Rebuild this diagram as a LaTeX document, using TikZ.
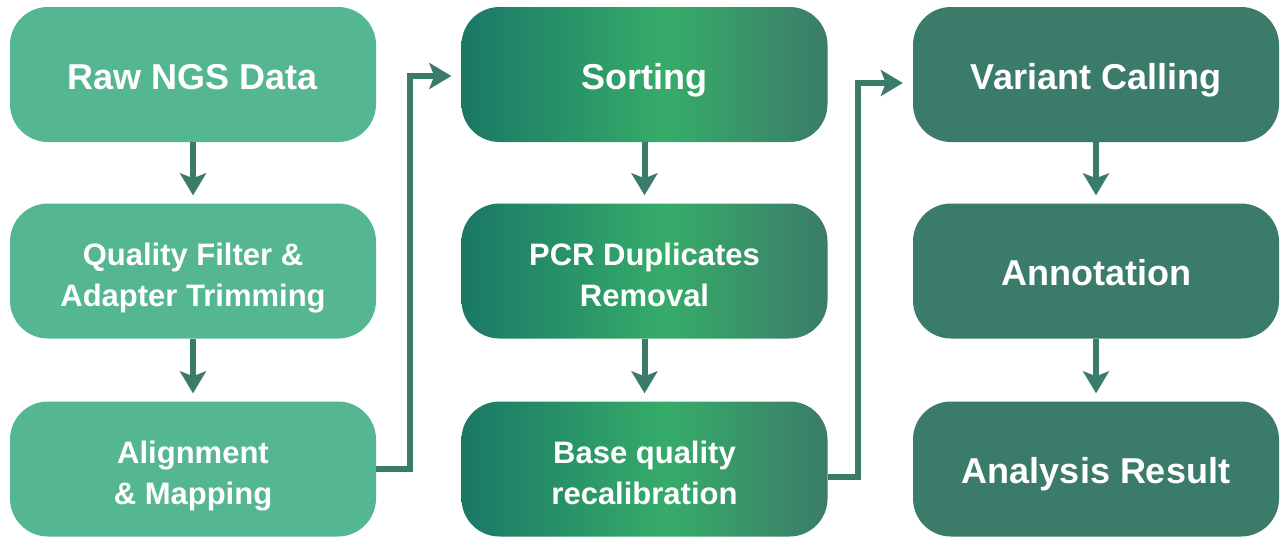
\documentclass[tikz,border=0pt]{standalone}
\usepackage{fontspec}
\setmainfont{Liberation Sans}
\usetikzlibrary{arrows.meta,calc}
\definecolor{lightg}{HTML}{55B792}
\definecolor{darkg}{HTML}{3A7B69}
\definecolor{gA}{HTML}{1A7866}
\definecolor{gC}{HTML}{36AC69}
\definecolor{gD}{HTML}{3B7C6A}
\pgfdeclarehorizontalshading{midshade}{100bp}{color(0bp)=(gA); color(25bp)=(gA); color(53bp)=(gC); color(75bp)=(gD); color(100bp)=(gD)}
\begin{document}
\begin{tikzpicture}[x=1pt,y=-1pt,
  box/.style={rounded corners=38pt, minimum width=366pt, minimum height=135pt, inner sep=0pt, text=white, align=center},
  big/.style={font=\bfseries\fontsize{36}{40}\selectfont, text height=29pt, text depth=0pt},
  small/.style={font=\bfseries\fontsize{31}{41}\selectfont, text height=70pt, text depth=0pt},
  colA/.style={box, fill=lightg},
  colB/.style={box, shade, shading=midshade, shading angle=0},
  colC/.style={box, fill=darkg},
  conn/.style={draw=darkg, line width=6pt, line join=miter, -{Stealth[length=22pt,width=26pt,inset=5pt]}}]
\useasboundingbox[fill=white] (0,0) rectangle (1281,538);
\node[colA,big]   (a1) at (193,74.5) {Raw NGS Data};
\node[colA,small] (a2) at (193,271) {Quality Filter \&\\Adapter Trimming};
\node[colA,small] (a3) at (193,469) {Alignment\\\& Mapping};
\node[colB,big]   (b1) at (644.5,74.5) {Sorting};
\node[colB,small] (b2) at (644.5,271) {PCR Duplicates\\Removal};
\node[colB,small] (b3) at (644.5,469) {Base quality\\recalibration};
\node[colC,big]   (c1) at (1096,74.5) {Variant Calling};
\node[colC,big]   (c2) at (1096,271) {Annotation};
\node[colC,big]   (c3) at (1096,469) {Analysis Result};
\foreach \u/\v in {a1/a2,a2/a3,b1/b2,b2/b3,c1/c2,c2/c3}
  \draw[conn, shorten >=8pt] (\u) -- (\v);
\coordinate (k1) at (410,0);
\coordinate (k2) at (858,0);
\coordinate (s1) at (a3.east);
\coordinate (t1) at ($(b1.west)+(0,1.5)$);
\coordinate (s2) at ($(b3.east)+(0,8)$);
\coordinate (t2) at ($(c1.west)+(0,8.5)$);
\draw[conn, shorten >=10pt] (s1) -- (s1 -| k1) -- (t1 -| k1) -- (t1);
\draw[conn, shorten >=10pt] (s2) -- (s2 -| k2) -- (t2 -| k2) -- (t2);
\end{tikzpicture}
\end{document}
